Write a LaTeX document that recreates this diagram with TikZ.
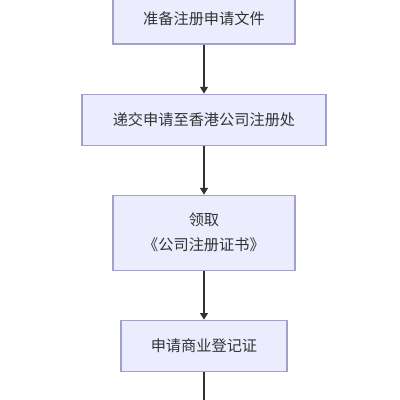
\documentclass[tikz,border=0pt]{standalone}
\usepackage{fontspec}
\newfontfamily\cjk{Noto Sans CJK SC}
\usetikzlibrary{
  arrows.meta,
  positioning,
}
\definecolor{stepFill}{HTML}{ECECFF}
\definecolor{stepLine}{HTML}{A59FCB}
\definecolor{flowLine}{HTML}{333333}
\tikzset{
  stepbox/.style={
    rectangle, draw=stepLine, fill=stepFill, line width=0.8pt,
    minimum height=38.25pt, inner sep=6pt, align=center,
    font=\cjk\fontsize{11.4}{18.75}\selectfont, text=flowLine,
  },
  arrowFlow/.style={
    -{Triangle[length=5pt,width=6pt]}, line width=0.8pt, draw=flowLine,
  },
}

\begin{document}
\begin{tikzpicture}[x=0.75pt, y=0.75pt, node distance=36.75pt]
\useasboundingbox (-204,0) rectangle (196,-400);
\node[stepbox, minimum width=136.5pt] (prepare) at (0,-18.5) {准备注册申请文件};
\node[stepbox, minimum width=183pt, below=of prepare] (submit) {递交申请至香港公司注册处};
\node[stepbox, minimum width=136.5pt, minimum height=56.25pt, below=of submit] (collect) {领取\\《公司注册证书》};
\node[stepbox, minimum width=124.5pt, below=of collect] (apply) {申请商业登记证};
\coordinate (next) at (0,-400);
\draw[arrowFlow] (prepare) -- (submit);
\draw[arrowFlow] (submit) -- (collect);
\draw[arrowFlow] (collect) -- (apply);
\draw[line width=0.8pt, draw=flowLine] (apply) -- (next);
\end{tikzpicture}
\end{document}
